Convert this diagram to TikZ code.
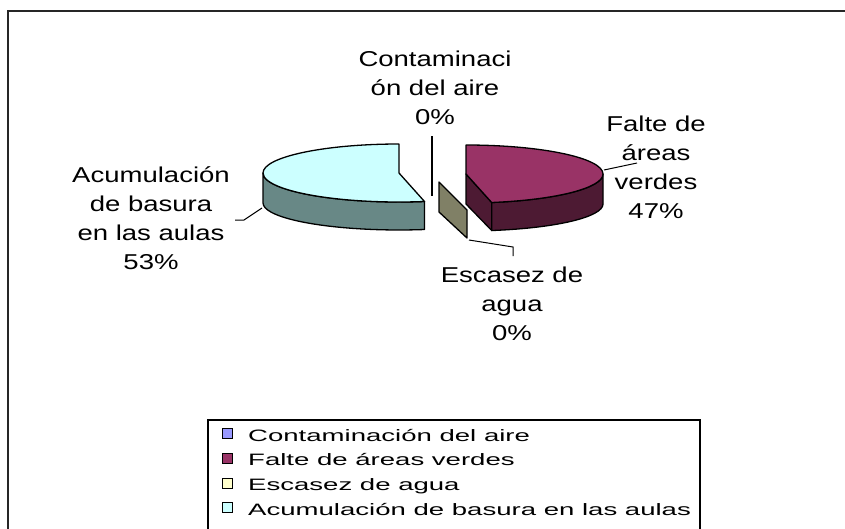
\documentclass[tikz,border=0pt]{standalone}
\usepackage{fontspec}
\setmainfont{Liberation Sans}
\newfontfamily\lblfont[FakeStretch=1.28]{Liberation Sans}
\newfontfamily\lgdfont[FakeStretch=1.67]{Liberation Sans}
\definecolor{cyantop}{HTML}{CCFFFF}
\definecolor{cyanside}{HTML}{688886}
\definecolor{magtop}{HTML}{993366}
\definecolor{magside}{HTML}{4D1A33}
\definecolor{olivec}{HTML}{808066}
\definecolor{lavc}{HTML}{9999FF}
\definecolor{palec}{HTML}{FFFFCC}
\begin{document}
\begin{tikzpicture}[x=1pt,y=-1pt,
  lbl/.style={font=\lblfont\fontsize{21.5}{29}\selectfont, inner sep=0pt, anchor=base},
  lgd/.style={font=\lgdfont\fontsize{16.5}{24}\selectfont, inner sep=0pt, anchor=base west},
  pieedge/.style={draw=black, line width=1.3pt, line join=round},
  leader/.style={draw=black, line width=1pt},
  keybox/.style={draw=black, line width=0.9pt, minimum size=10pt, inner sep=0pt, anchor=south west}]
\useasboundingbox (0,0) rectangle (845,528);
\clip (0,0) rectangle (845,528);
\fill[white] (0,0) rectangle (845,528);
% outer frame
\draw[line width=2pt, black!85] (8,560) -- (8,11) -- (870,11);

% cyan slice (Acumulacion 53%)
\coordinate (cA) at (399,173);
\filldraw[fill=cyanside, pieedge] (263,173) arc[start angle=-180, end angle=-280.8, x radius=136, y radius=29]
  -- (424.5,229.5) arc[start angle=-280.8, end angle=-180, x radius=136, y radius=27] -- cycle;
\filldraw[fill=cyantop, pieedge] (cA) -- (399,144) arc[start angle=-90, end angle=-280.8, x radius=136, y radius=29] -- cycle;

% magenta slice (Falte 47%)
\coordinate (mA) at (466,174);
\filldraw[fill=magside, pieedge] (mA) -- (491.7,202.5) -- (491.7,230.5) -- (466,204) -- cycle;
\filldraw[fill=magside, pieedge] (491.7,202.5) arc[start angle=79.2, end angle=0, x radius=137, y radius=29]
  -- (603,204) arc[start angle=0, end angle=79.2, x radius=137, y radius=27] -- cycle;
\filldraw[fill=magtop, pieedge] (mA) -- (466,145) arc[start angle=-90, end angle=79.2, x radius=137, y radius=29] -- cycle;

% escasez sliver
\filldraw[fill=olivec, pieedge] (439,182) -- (467,210) -- (467,238) -- (439,212) -- cycle;
% contaminacion sliver
\coordinate (ct1) at (432,136);
\coordinate (ct2) at (432,196);
\draw[line width=2.6pt] (ct1) -- (ct2);

% leaders
\coordinate (lf1) at (604,170);
\coordinate (lf2) at (637,163);
\draw[leader] (lf1) -- (lf2);
\coordinate (le1) at (469,240);
\coordinate (le2) at (513,247);
\coordinate (le3) at (513,256);
\draw[leader] (le1) -- (le2) -- (le3);
\coordinate (la1) at (262,208);
\coordinate (la2) at (244,220);
\coordinate (la3) at (235,220);
\draw[leader] (la1) -- (la2) -- (la3);

% labels
\node[lbl] (c1) at (435,66) {Contaminaci};
\node[lbl] (c2) at (435,95) {ón del aire};
\node[lbl] (c3) at (435,124) {0\%};
\node[lbl] (f1) at (656,131) {Falte de};
\node[lbl] (f2) at (656,160) {áreas};
\node[lbl] (f3) at (656,189) {verdes};
\node[lbl] (f4) at (656,218) {47\%};
\node[lbl] (a1) at (151,182) {Acumulación};
\node[lbl] (a2) at (151,211) {de basura};
\node[lbl] (a3) at (151,240) {en las aulas};
\node[lbl] (a4) at (151,269) {53\%};
\node[lbl] (e1) at (512,282) {Escasez de};
\node[lbl] (e2) at (512,311) {agua};
\node[lbl] (e3) at (512,340) {0\%};

% legend
\draw[line width=1.5pt] (208,560) -- (208,420) -- (700,420) -- (700,560);
\node[keybox, fill=lavc] (k1) at (222,439) {};
\node[keybox, fill=magtop] (k2) at (222,463.7) {};
\node[keybox, fill=palec] (k3) at (222,488.4) {};
\node[keybox, fill=cyantop] (k4) at (222,513) {};
\node[lgd] (t1) at (248,441) {Contaminación del aire};
\node[lgd] (t2) at (248,465.7) {Falte de áreas verdes};
\node[lgd] (t3) at (248,490.4) {Escasez de agua};
\node[lgd] (t4) at (248,515) {Acumulación de basura en las aulas};
\end{tikzpicture}
\end{document}
